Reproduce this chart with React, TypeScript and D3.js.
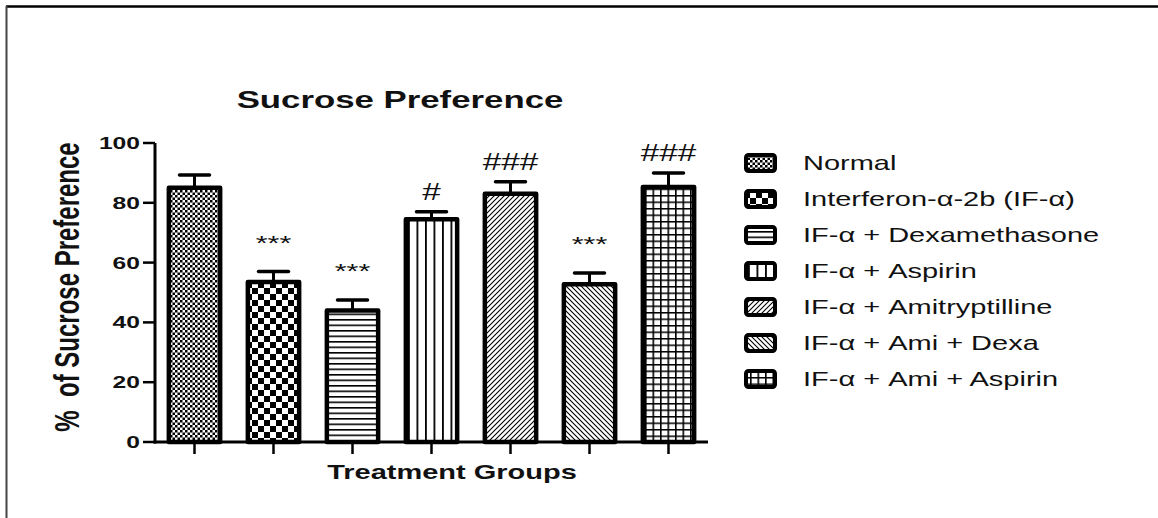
import React from "react";
import * as d3 from "d3";

const groups = [
  "Normal",
  "Interferon-α-2b (IF-α)",
  "IF-α + Dexamethasone",
  "IF-α + Aspirin",
  "IF-α + Amitryptilline",
  "IF-α + Ami + Dexa",
  "IF-α + Ami + Aspirin",
];
const means = [85, 53.5, 44, 74.5, 83, 52.8, 85.3];
const sems = [4.3, 3.5, 3.5, 2.5, 4, 3.7, 4.7];
const marks = ["", "***", "***", "#", "###", "***", "###"];
const yTicks = [0, 20, 40, 60, 80, 100];
const patternIds = ["pNormal", "pIfn", "pDex", "pAsp", "pAmi", "pAmiDex", "pAmiAsp"];

const W = 1158;
const H = 518;
const SX = 1.45; // horizontal text stretch
const FONT = "Arial, 'Liberation Sans', sans-serif";

const x = d3.scaleBand<string>().domain(groups).range([155, 708]).paddingInner(0.3).paddingOuter(0.15);
const y = d3.scaleLinear().domain([0, 100]).range([442, 143]);

function T({ x, y, size, weight = "normal", anchor = "start", rotate = 0, children }: any) {
  return (
    <text
      transform={`translate(${x},${y}) scale(${SX},1)${rotate ? ` rotate(${rotate})` : ""}`}
      fontFamily={FONT}
      fontSize={size}
      fontWeight={weight}
      textAnchor={anchor}
      fill="#111"
      style={{ whiteSpace: "pre" }}
    >
      {children}
    </text>
  );
}

function Patterns() {
  return (
    <defs>
      <pattern id="pNormal" patternUnits="userSpaceOnUse" width={5} height={5}>
        <rect width={5} height={5} fill="#fff" />
        <rect x={0} y={0} width={2.5} height={2.5} fill="#000" />
        <rect x={2.5} y={2.5} width={2.5} height={2.5} fill="#000" />
      </pattern>
      <pattern id="pIfn" patternUnits="userSpaceOnUse" width={12} height={12}>
        <rect width={12} height={12} fill="#fff" />
        <rect x={0} y={0} width={6} height={6} fill="#000" />
        <rect x={6} y={6} width={6} height={6} fill="#000" />
      </pattern>
      <pattern id="pDex" patternUnits="userSpaceOnUse" width={10} height={5.5}>
        <rect width={10} height={5.5} fill="#fff" />
        <rect x={0} y={0} width={10} height={1.6} fill="#000" />
      </pattern>
      <pattern id="pAsp" patternUnits="userSpaceOnUse" width={8.5} height={10}>
        <rect width={8.5} height={10} fill="#fff" />
        <rect x={0} y={0} width={1.8} height={10} fill="#000" />
      </pattern>
      <pattern id="pAmi" patternUnits="userSpaceOnUse" width={5} height={5}>
        <rect width={5} height={5} fill="#fff" />
        <path d="M-1,6 L6,-1 M-1,1 L1,-1 M4,6 L6,4" stroke="#000" strokeWidth={1.1} />
      </pattern>
      <pattern id="pAmiDex" patternUnits="userSpaceOnUse" width={5} height={5}>
        <rect width={5} height={5} fill="#fff" />
        <path d="M-1,-1 L6,6 M4,-1 L6,1 M-1,4 L1,6" stroke="#000" strokeWidth={1.1} />
      </pattern>
      <pattern id="pAmiAsp" patternUnits="userSpaceOnUse" width={7.5} height={6.5}>
        <rect width={7.5} height={6.5} fill="#fff" />
        <rect x={0} y={0} width={1.6} height={6.5} fill="#000" />
        <rect x={0} y={0} width={7.5} height={1.5} fill="#000" />
      </pattern>
    </defs>
  );
}

export default function App() {
  const bw = x.bandwidth();
  const capHalf = 15;
  return (
    <svg width={W} height={H} style={{ position: "absolute", left: 0, top: 0, background: "#fff" }}>
      <Patterns />
      {/* frame */}
      <line x1={6} y1={6.5} x2={W} y2={6.5} stroke="#000" strokeWidth={2.5} />
      <line x1={6.5} y1={6} x2={6.5} y2={H} stroke="#444" strokeWidth={2} />

      {/* title */}
      <T x={400} y={108} size={24} weight="bold" anchor="middle">Sucrose Preference</T>

      {/* bars */}
      {groups.map((g, i) => {
        const x0 = x(g)!;
        const cx = x0 + bw / 2;
        const top = y(means[i]);
        const cap = y(means[i] + sems[i]);
        return (
          <g key={g}>
            <line x1={cx} y1={top} x2={cx} y2={cap} stroke="#000" strokeWidth={3} />
            <line x1={cx - capHalf} y1={cap} x2={cx + capHalf} y2={cap} stroke="#000" strokeWidth={3.5} strokeLinecap="round" />
            <rect x={x0 + 2} y={top} width={bw - 4} height={y(0) - top} fill={`url(#${patternIds[i]})`} stroke="#000" strokeWidth={4.5} strokeLinejoin="round" />
            {marks[i] && (
              <T x={cx} y={cap - (marks[i].startsWith("*") ? 22 : 12)} size={marks[i].startsWith("*") ? 21 : 23} anchor="middle">
                {marks[i]}
              </T>
            )}
          </g>
        );
      })}

      {/* y axis */}
      <line x1={155} y1={y(100)} x2={155} y2={y(0) + 1.5} stroke="#000" strokeWidth={3} />
      {yTicks.map((t) => (
        <g key={t}>
          <line x1={143} y1={y(t)} x2={155} y2={y(t)} stroke="#000" strokeWidth={2.5} />
          <T x={140} y={y(t) + 6} size={17} weight="bold" anchor="end">{String(t)}</T>
        </g>
      ))}
      <T x={79} y={287} size={24} weight="bold" anchor="middle" rotate={-90}>{"%  of Sucrose Preference"}</T>

      {/* x axis */}
      <line x1={153.5} y1={y(0)} x2={708} y2={y(0)} stroke="#000" strokeWidth={3} />
      {groups.map((g) => (
        <line key={g} x1={x(g)! + bw / 2} y1={y(0)} x2={x(g)! + bw / 2} y2={y(0) + 12} stroke="#000" strokeWidth={2.5} />
      ))}
      <T x={452} y={479} size={20} weight="bold" anchor="middle">Treatment Groups</T>

      {/* legend */}
      {groups.map((g, i) => {
        const cy = 163 + i * 36;
        return (
          <g key={g}>
            <rect x={746} y={cy - 8} width={29} height={16} rx={2.5} fill={`url(#${patternIds[i]})`} stroke="#000" strokeWidth={4} />
            <T x={803} y={cy + 7} size={20}>{g}</T>
          </g>
        );
      })}
    </svg>
  );
}
